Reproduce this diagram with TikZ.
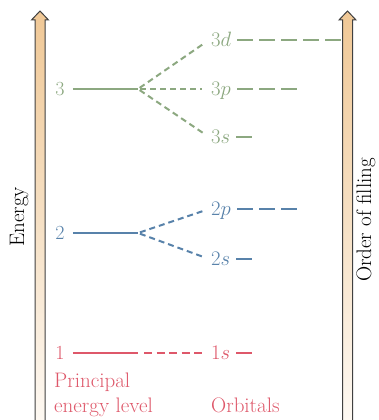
\documentclass[tikz,border=0pt]{standalone}
\usepackage{amsmath}
\usetikzlibrary{positioning}
\definecolor{lvlgreen}{RGB}{140,168,128}
\definecolor{lvlblue}{RGB}{88,130,170}
\definecolor{lvlred}{RGB}{222,88,106}
\definecolor{arrtop}{RGB}{240,200,150}
\definecolor{arrmid}{RGB}{246,224,196}
\definecolor{arrbot}{RGB}{254,250,245}

\begin{document}
\begin{tikzpicture}[x=1pt,y=-1pt]
            \tikzset{
                lvl/.style={inner xsep=8pt,inner ysep=0pt,text height=13pt,text depth=0pt,font=\fontsize{20}{24}\selectfont},
                orb/.style={anchor=west,inner xsep=2pt,inner ysep=0pt,text height=13pt,text depth=0pt,font=\fontsize{20}{24}\selectfont},
                lvlline/.style={line width=2.5pt},
                splitline/.style={line width=2pt,dash pattern=on 6pt off 4pt,shorten <=2pt,shorten >=7pt},
                fillline/.style={line width=2.5pt,dash pattern=on 16pt off 6pt,shorten <=4pt},
                bigarrow/.style={draw=black!75,line width=1pt,top color=arrtop,bottom color=arrbot,middle color=arrmid},
                side/.style={rotate=90,anchor=base,font=\fontsize{21}{24}\selectfont},}
            \def\fillarrow#1{(#1-5,430) -- (#1-5,20) -- (#1-8.5,20) -- (#1,11) -- (#1+8.5,20) -- (#1+5,20) -- (#1+5,430) -- cycle}
            \clip (0,0) rectangle (378,420);
            \path[bigarrow] \fillarrow{40};
            \path[bigarrow] \fillarrow{347.5};
            \node[side] (elab) at (24,217) {Energy};
            \node[side] (flab) at (371,220) {Order of filling};
            % n = 3
            \begin{scope}[lvlgreen]
                \node[lvl] (n3) at (60,89) {3};
                \coordinate (s3) at (138,89);
                \node[orb] (o3d) at (209,40) {$3d$};
                \node[orb] (o3p) at (209,89) {$3p$};
                \node[orb] (o3s) at (209,137) {$3s$};
                \coordinate (e3d) at (342,40);
                \coordinate (e3p) at (297,89);
                \coordinate (e3s) at (255,137);
                \draw[lvlline] (n3) -- (s3);
                \foreach \o in {o3d,o3p,o3s}
                    \draw[splitline] (s3) -- (\o.west);
                \draw[fillline] (o3d.east) -- (e3d);
                \draw[fillline] (o3p.east) -- (e3p);
                \draw[fillline] (o3s.east) -- (e3s);
            \end{scope}
            % n = 2
            \begin{scope}[lvlblue]
                \node[lvl] (n2) at (60,233) {2};
                \coordinate (s2) at (138,233);
                \node[orb] (o2p) at (209,209) {$2p$};
                \node[orb] (o2s) at (209,259) {$2s$};
                \coordinate (e2p) at (297,209);
                \coordinate (e2s) at (255,259);
                \draw[lvlline] (n2) -- (s2);
                \foreach \o in {o2p,o2s}
                    \draw[splitline] (s2) -- (\o.west);
                \draw[fillline] (o2p.east) -- (e2p);
                \draw[fillline] (o2s.east) -- (e2s);
            \end{scope}
            % n = 1
            \begin{scope}[lvlred]
                \node[lvl] (n1) at (60,353) {1};
                \coordinate (s1) at (138,353);
                \node[orb] (o1s) at (209,353) {$1s$};
                \coordinate (e1s) at (255,353);
                \draw[lvlline] (n1) -- (s1);
                \draw[lvlline,dash pattern=on 8pt off 4.5pt,shorten <=6pt,shorten >=6pt] (s1) -- (o1s.west);
                \draw[fillline] (o1s.east) -- (e1s);
                \node[anchor=north west,inner sep=0pt,align=left,font=\fontsize{21}{25}\selectfont] (plab) at (54,373) {Principal\\energy level};
                \node[anchor=base west,inner sep=0pt,font=\fontsize{21}{25}\selectfont] (olab) at (211,412) {Orbitals};
            \end{scope}
        \end{tikzpicture}
\end{document}
